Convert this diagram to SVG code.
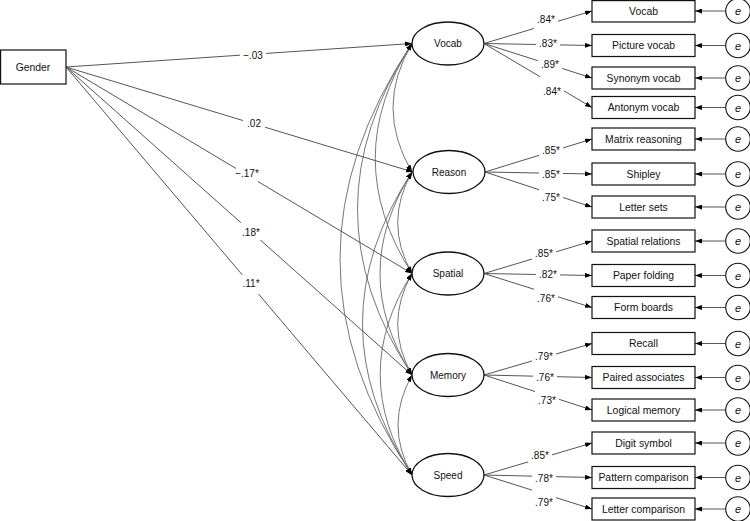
<svg xmlns="http://www.w3.org/2000/svg" width="750" height="521" viewBox="0 0 750 521">
<style>
text{font-family:"Liberation Sans",Arial,sans-serif;fill:#111;text-anchor:middle;dominant-baseline:central}
.lbl{font-size:10px}
.box rect{fill:#fff;stroke:#111;stroke-width:1.2}
.box text{font-size:10.4px}
.lat ellipse{fill:#fff;stroke:#111;stroke-width:1.3}
.lat text{font-size:10px}
.err circle{fill:#fff;stroke:#111;stroke-width:1.1}
.err text{font-size:11px;font-style:italic}
.ln{stroke:#555;stroke-width:1;fill:none;marker-end:url(#ah)}
.cv{stroke:#666;stroke-width:0.9;fill:none;marker-start:url(#ah);marker-end:url(#ah)}
.bg{fill:#fff}
</style>
<defs>
<marker id="ah" viewBox="0 0 7 5" refX="7" refY="2.5" markerWidth="7" markerHeight="5" markerUnits="userSpaceOnUse" orient="auto-start-reverse">
<path d="M0,0 L7,2.5 L0,5 z" fill="#000"/>
</marker>
</defs>
<rect width="750" height="521" fill="#fff"/>

<g id="connectors">
<!-- covariances -->
<path class="cv" d="M412,43.5 Q374,107.75 412,172"/>
<path class="cv" d="M412,43.5 Q338.5,158.5 412,273.5"/>
<path class="cv" d="M412,43.5 Q303,209.25 412,375"/>
<path class="cv" d="M412,43.5 Q268,259.25 412,475"/>
<path class="cv" d="M412,172 Q383.4,222.75 412,273.5"/>
<path class="cv" d="M412,172 Q348,273.5 412,375"/>
<path class="cv" d="M412,172 Q313,323.5 412,475"/>
<path class="cv" d="M412,273.5 Q383.4,324.25 412,375"/>
<path class="cv" d="M412,273.5 Q348.4,374.25 412,475"/>
<path class="cv" d="M412,375 Q384,425 412,475"/>
<!-- gender paths -->
<line class="ln" x1="66" y1="67" x2="412" y2="43.5"/>
<line class="ln" x1="66" y1="67" x2="413" y2="172"/>
<line class="ln" x1="66" y1="67" x2="412" y2="273.5"/>
<line class="ln" x1="66" y1="67" x2="412" y2="375"/>
<line class="ln" x1="66" y1="67" x2="412" y2="475"/>
<rect class="bg" x="240" y="47" width="26" height="15"/><text class="lbl" x="253" y="55">−.03</text>
<rect class="bg" x="243" y="116" width="22" height="15"/><text class="lbl" x="254" y="123">.02</text>
<rect class="bg" x="236" y="166" width="22" height="18"/><text class="lbl" x="247" y="173">−.17*</text>
<rect class="bg" x="241" y="222" width="20" height="18"/><text class="lbl" x="251" y="232">.18*</text>
<rect class="bg" x="241" y="275" width="20" height="19"/><text class="lbl" x="251" y="283">.11*</text>
<!-- loadings -->
<line class="ln" x1="484" y1="43.5" x2="592" y2="11"/>
<line class="ln" x1="484" y1="43.5" x2="592" y2="45.5"/>
<line class="ln" x1="484" y1="43.5" x2="592" y2="78"/>
<line class="ln" x1="484" y1="43.5" x2="592" y2="107.5"/>
<line class="ln" x1="485" y1="172" x2="592" y2="139"/>
<line class="ln" x1="485" y1="172" x2="592" y2="174"/>
<line class="ln" x1="485" y1="172" x2="592" y2="207"/>
<line class="ln" x1="484" y1="273.5" x2="592" y2="241"/>
<line class="ln" x1="484" y1="273.5" x2="592" y2="275.5"/>
<line class="ln" x1="484" y1="273.5" x2="592" y2="307.5"/>
<line class="ln" x1="484" y1="375" x2="592" y2="343.5"/>
<line class="ln" x1="484" y1="375" x2="592" y2="377.5"/>
<line class="ln" x1="484" y1="375" x2="592" y2="410"/>
<line class="ln" x1="484" y1="475" x2="592" y2="443"/>
<line class="ln" x1="484" y1="475" x2="592" y2="477.5"/>
<line class="ln" x1="484" y1="475" x2="592" y2="509"/>
<rect class="bg" x="534" y="12" width="24" height="18"/><text class="lbl" x="546" y="19">.84*</text>
<rect class="bg" x="536" y="36" width="24" height="15"/><text class="lbl" x="548" y="43">.83*</text>
<rect class="bg" x="538" y="57" width="24" height="15"/><text class="lbl" x="550" y="64">.89*</text>
<rect class="bg" x="540" y="74" width="24" height="22"/><text class="lbl" x="552" y="91">.84*</text>
<rect class="bg" x="539" y="141" width="24" height="20"/><text class="lbl" x="551" y="150">.85*</text>
<rect class="bg" x="539" y="166" width="24" height="16"/><text class="lbl" x="551" y="174">.85*</text>
<rect class="bg" x="539" y="186" width="24" height="18"/><text class="lbl" x="551" y="197">.75*</text>
<rect class="bg" x="532" y="245" width="24" height="18"/><text class="lbl" x="544" y="253">.85*</text>
<rect class="bg" x="536" y="267" width="24" height="15"/><text class="lbl" x="548" y="274">.82*</text>
<rect class="bg" x="534" y="285" width="24" height="19"/><text class="lbl" x="546" y="298">.76*</text>
<rect class="bg" x="532" y="348" width="24" height="18"/><text class="lbl" x="544" y="356">.79*</text>
<rect class="bg" x="533" y="369" width="24" height="16"/><text class="lbl" x="545" y="377">.76*</text>
<rect class="bg" x="535" y="387" width="24" height="19"/><text class="lbl" x="547" y="400">.73*</text>
<rect class="bg" x="528" y="447" width="24" height="19"/><text class="lbl" x="540" y="455">.85*</text>
<rect class="bg" x="532" y="469" width="24" height="16"/><text class="lbl" x="544" y="478">.78*</text>
<rect class="bg" x="532" y="486" width="24" height="21"/><text class="lbl" x="544" y="502">.79*</text>
<!-- error arrows -->
<line class="ln" x1="725.5" y1="11" x2="695" y2="11"/>
<line class="ln" x1="725.5" y1="45.5" x2="695" y2="45.5"/>
<line class="ln" x1="725.5" y1="78" x2="695" y2="78"/>
<line class="ln" x1="725.5" y1="107.5" x2="695" y2="107.5"/>
<line class="ln" x1="725.5" y1="139" x2="695" y2="139"/>
<line class="ln" x1="725.5" y1="174" x2="695" y2="174"/>
<line class="ln" x1="725.5" y1="207" x2="695" y2="207"/>
<line class="ln" x1="725.5" y1="241" x2="695" y2="241"/>
<line class="ln" x1="725.5" y1="275.5" x2="695" y2="275.5"/>
<line class="ln" x1="725.5" y1="307.5" x2="695" y2="307.5"/>
<line class="ln" x1="725.5" y1="343.5" x2="695" y2="343.5"/>
<line class="ln" x1="725.5" y1="377.5" x2="695" y2="377.5"/>
<line class="ln" x1="725.5" y1="410" x2="695" y2="410"/>
<line class="ln" x1="725.5" y1="443" x2="695" y2="443"/>
<line class="ln" x1="725.5" y1="477.5" x2="695" y2="477.5"/>
<line class="ln" x1="725.5" y1="509" x2="695" y2="509"/>
</g>

<g id="gender" class="box"><rect x="0.6" y="50" width="65.4" height="34"/><text x="33" y="67.5">Gender</text></g>

<g id="lat-vocab" class="lat"><ellipse cx="448" cy="43.5" rx="36" ry="21.5"/><text x="448" y="43.5">Vocab</text></g>
<g id="lat-reason" class="lat"><ellipse cx="449" cy="172" rx="36" ry="21.5"/><text x="449" y="172">Reason</text></g>
<g id="lat-spatial" class="lat"><ellipse cx="448" cy="273.5" rx="36" ry="21.5"/><text x="448" y="273.5">Spatial</text></g>
<g id="lat-memory" class="lat"><ellipse cx="448" cy="375" rx="36" ry="21.5"/><text x="448" y="375">Memory</text></g>
<g id="lat-speed" class="lat"><ellipse cx="448" cy="475" rx="36" ry="21.5"/><text x="448" y="475">Speed</text></g>

<g id="ind-vocab" class="box"><rect x="592" y="0.6" width="103" height="21.4"/><text x="643.5" y="11.3">Vocab</text></g>
<g id="ind-picture-vocab" class="box"><rect x="592" y="34.5" width="103" height="22"/><text x="643.5" y="45.5">Picture vocab</text></g>
<g id="ind-synonym-vocab" class="box"><rect x="592" y="67" width="103" height="22"/><text x="643.5" y="78">Synonym vocab</text></g>
<g id="ind-antonym-vocab" class="box"><rect x="592" y="96.5" width="103" height="22"/><text x="643.5" y="107.5">Antonym vocab</text></g>
<g id="ind-matrix" class="box"><rect x="592" y="128" width="103" height="22"/><text x="643.5" y="139">Matrix reasoning</text></g>
<g id="ind-shipley" class="box"><rect x="592" y="163" width="103" height="22"/><text x="643.5" y="174">Shipley</text></g>
<g id="ind-letter-sets" class="box"><rect x="592" y="196" width="103" height="22"/><text x="643.5" y="207">Letter sets</text></g>
<g id="ind-spatial-rel" class="box"><rect x="592" y="230" width="103" height="22"/><text x="643.5" y="241">Spatial relations</text></g>
<g id="ind-paper" class="box"><rect x="592" y="264.5" width="103" height="22"/><text x="643.5" y="275.5">Paper folding</text></g>
<g id="ind-form" class="box"><rect x="592" y="296.5" width="103" height="22"/><text x="643.5" y="307.5">Form boards</text></g>
<g id="ind-recall" class="box"><rect x="592" y="332.5" width="103" height="22"/><text x="643.5" y="343.5">Recall</text></g>
<g id="ind-paired" class="box"><rect x="592" y="366.5" width="103" height="22"/><text x="643.5" y="377.5">Paired associates</text></g>
<g id="ind-logical" class="box"><rect x="592" y="399" width="103" height="22"/><text x="643.5" y="410">Logical memory</text></g>
<g id="ind-digit" class="box"><rect x="592" y="432" width="103" height="22"/><text x="643.5" y="443">Digit symbol</text></g>
<g id="ind-pattern" class="box"><rect x="592" y="466.5" width="103" height="22"/><text x="643.5" y="477.5">Pattern comparison</text></g>
<g id="ind-letter-comp" class="box"><rect x="592" y="498" width="103" height="22"/><text x="643.5" y="509">Letter comparison</text></g>

<g id="errors" class="err">
<circle cx="738" cy="11" r="12.3"/><text x="738" y="11">e</text>
<circle cx="738" cy="45.5" r="12.3"/><text x="738" y="45.5">e</text>
<circle cx="738" cy="78" r="12.3"/><text x="738" y="78">e</text>
<circle cx="738" cy="107.5" r="12.3"/><text x="738" y="107.5">e</text>
<circle cx="738" cy="139" r="12.3"/><text x="738" y="139">e</text>
<circle cx="738" cy="174" r="12.3"/><text x="738" y="174">e</text>
<circle cx="738" cy="207" r="12.3"/><text x="738" y="207">e</text>
<circle cx="738" cy="241" r="12.3"/><text x="738" y="241">e</text>
<circle cx="738" cy="275.5" r="12.3"/><text x="738" y="275.5">e</text>
<circle cx="738" cy="307.5" r="12.3"/><text x="738" y="307.5">e</text>
<circle cx="738" cy="343.5" r="12.3"/><text x="738" y="343.5">e</text>
<circle cx="738" cy="377.5" r="12.3"/><text x="738" y="377.5">e</text>
<circle cx="738" cy="410" r="12.3"/><text x="738" y="410">e</text>
<circle cx="738" cy="443" r="12.3"/><text x="738" y="443">e</text>
<circle cx="738" cy="477.5" r="12.3"/><text x="738" y="477.5">e</text>
<circle cx="738" cy="509" r="12.3"/><text x="738" y="509">e</text>
</g>
</svg>
